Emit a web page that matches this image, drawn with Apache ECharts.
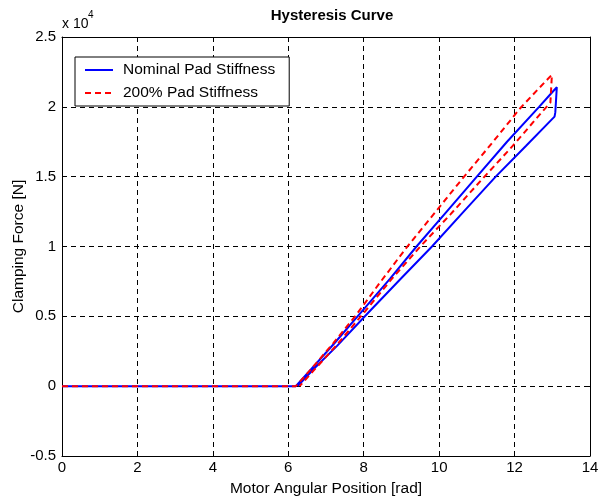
<!DOCTYPE html>
<html>
<head>
<meta charset="utf-8">
<script src="https://cdn.jsdelivr.net/npm/echarts@6/dist/echarts.min.js"></script>
<style>
html,body{margin:0;padding:0;background:#fff;}
#chart{width:598px;height:499px;}
</style>
</head>
<body>
<div id="chart"></div>
<script>
// Data (x in rad, force in N)
const seriesNames = ['Nominal Pad Stiffness', '200% Pad Stiffness'];
const xTicks = [0, 2, 4, 6, 8, 10, 12, 14];
const yTicks = [-5000, 0, 5000, 10000, 15000, 20000, 25000];

const nominalX = [0, 6.2, 6.6, 7.2, 7.9, 8.7, 9.4, 10.2, 11.0, 11.8, 12.65, 12.95, 13.12, 13.1, 13.08, 13.06, 12.3, 11.5, 10.65, 9.81, 8.95, 8.1, 7.3, 6.7, 6.25];
const nominalY = [0, 0, 1200, 3000, 5200, 7700, 10000, 12500, 15000, 17500, 20000, 20900, 21400, 20500, 19600, 19300, 17200, 15000, 12500, 10000, 7600, 5200, 2900, 1300, 0];

const stiffX = [0, 6.2, 6.6, 7.2, 7.8, 8.4, 9.1, 9.85, 10.6, 11.4, 12.15, 12.6, 12.99, 12.97, 12.95, 12.75, 11.95, 11.1, 10.3, 9.5, 8.75, 8.05, 7.3, 6.7, 6.3];
const stiffY = [0, 0, 1200, 3100, 5100, 7300, 9800, 12300, 14800, 17400, 19900, 21200, 22300, 21300, 20300, 19700, 17200, 14700, 12300, 10000, 7700, 5400, 3000, 1200, 0];

function pairs(xs, ys) { return xs.map((x, i) => [x, ys[i]]); }

const chart = echarts.init(document.getElementById('chart'), null, {renderer: 'canvas'});
const font = 'Liberation Sans, Arial, sans-serif';
const tickStyle = {show: true, inside: true, length: 5, lineStyle: {color: '#000', width: 1}};
const axisLine = {show: true, onZero: false, lineStyle: {color: '#000', width: 1}};
const split = {show: true, lineStyle: {color: '#000', width: 1, type: [5, 4]}};

chart.setOption({
  animation: false,
  backgroundColor: '#fff',
  textStyle: {fontFamily: font},
  title: {
    text: 'Hysteresis Curve',
    left: 327, top: 3, textAlign: 'center',
    textStyle: {fontFamily: font, fontSize: 15, fontWeight: 'bold', color: '#000'}
  },
  grid: {left: 62, right: 8, top: 37, bottom: 43, containLabel: false, outerBoundsMode: 'none'},
  legend: {
    orient: 'vertical', left: 75, top: 57,
    backgroundColor: '#fff', borderColor: '#000', borderWidth: 1, borderRadius: 0,
    padding: [5, 14, 5, 9], itemWidth: 28, itemHeight: 14, itemGap: 7,
    itemStyle: {opacity: 0},
    textStyle: {fontFamily: font, fontSize: 15.5, color: '#000', padding: [0, 0, 0, 5]},
    data: seriesNames
  },
  xAxis: [{
    type: 'value', min: xTicks[0], max: xTicks[xTicks.length - 1], interval: 2,
    position: 'bottom',
    name: 'Motor Angular Position [rad]', nameLocation: 'middle', nameGap: 25,
    nameMoveOverlap: false,
    nameTextStyle: {fontFamily: font, fontSize: 15.5, color: '#000'},
    axisLine: axisLine, axisTick: tickStyle, splitLine: split,
    axisLabel: {fontFamily: font, fontSize: 15, color: '#000', margin: 4}
  }, {
    type: 'value', min: xTicks[0], max: xTicks[xTicks.length - 1], interval: 2,
    position: 'top', axisLine: axisLine, axisTick: tickStyle,
    splitLine: {show: false}, axisLabel: {show: false}
  }],
  yAxis: [{
    type: 'value', min: yTicks[0], max: yTicks[yTicks.length - 1], interval: 5000,
    position: 'left',
    name: 'Clamping Force [N]', nameLocation: 'middle', nameGap: 35,
    nameMoveOverlap: false,
    nameTextStyle: {fontFamily: font, fontSize: 15.5, color: '#000'},
    axisLine: axisLine, axisTick: tickStyle, splitLine: split,
    axisLabel: {fontFamily: font, fontSize: 15, color: '#000', margin: 6,
      formatter: v => String(v / 10000)}
  }, {
    type: 'value', min: yTicks[0], max: yTicks[yTicks.length - 1], interval: 5000,
    position: 'right', axisLine: axisLine, axisTick: tickStyle,
    splitLine: {show: false}, axisLabel: {show: false}
  }],
  graphic: [{
    type: 'text', left: 62, top: 17,
    style: {text: 'x 10', font: '14px ' + font, fill: '#000'}
  }, {
    type: 'text', left: 88, top: 10,
    style: {text: '4', font: '10px ' + font, fill: '#000'}
  }],
  series: [{
    name: seriesNames[0], type: 'line', data: pairs(nominalX, nominalY),
    showSymbol: false, symbol: 'none', color: '#0000ff',
    lineStyle: {color: '#0000ff', width: 2}
  }, {
    name: seriesNames[1], type: 'line', data: pairs(stiffX, stiffY),
    showSymbol: false, symbol: 'none', color: '#ff0000',
    lineStyle: {color: '#ff0000', width: 2, type: [6, 4]}
  }]
});
</script>
</body>
</html>
